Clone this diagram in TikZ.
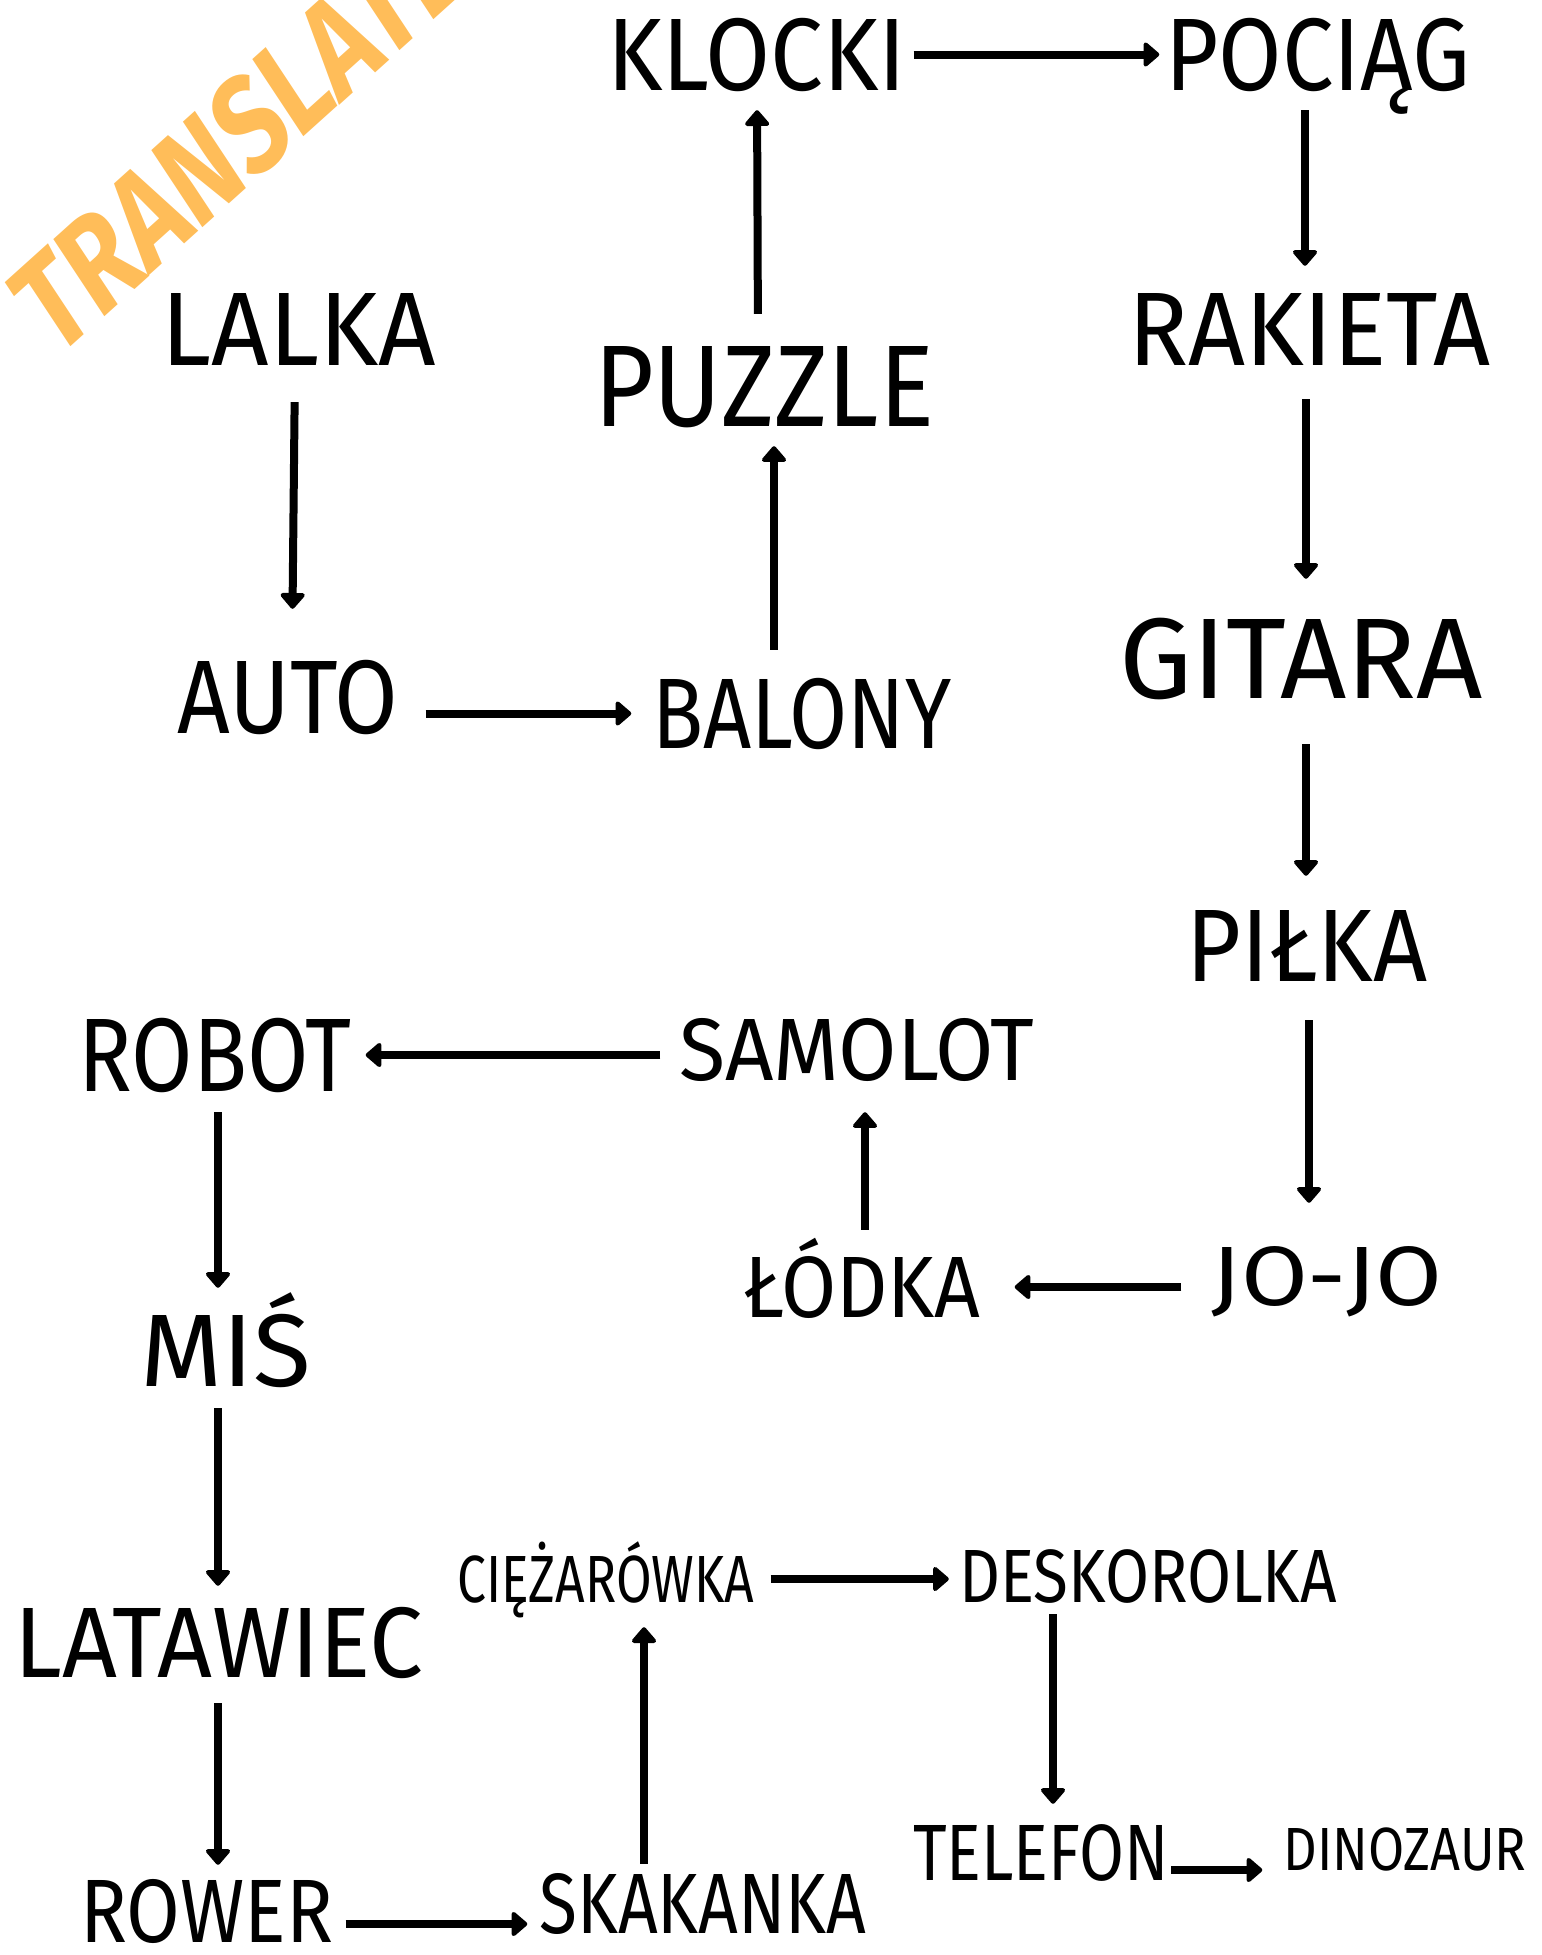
\documentclass[tikz,border=0pt]{standalone}
\usepackage{fontspec}
\usepackage{graphicx}
\setmainfont{Fira Sans}
\usetikzlibrary{arrows.meta}
\definecolor{wmorange}{HTML}{FFBD59}
\tikzset{
  toy/.style={inner sep=0pt, anchor=base, text depth=0pt},
  arr/.style={line width=8pt, -{Triangle[length=17pt,width=28pt,line width=5pt,round]}}
}
\newcommand{\toy}[6]{%
  \node[toy, text height=#4pt] (#1) at (#2,#3)
    {\fontsize{\fpeval{round(#4/0.689,2)}}{\fpeval{round(#4/0.689,2)}}\selectfont\resizebox{#5pt}{\height}{#6}};}

\begin{document}
\begin{tikzpicture}[x=1pt,y=-1pt]
\useasboundingbox (0,0) rectangle (1542,1955);
\clip (0,0) rectangle (1542,1955);
\node[rotate=42, text=wmorange, inner sep=0pt, xslant=0.15] (wm) at (238,135)
  {\fontsize{132}{132}\bfseries\selectfont\resizebox{560pt}{\height}{TRANSLATE}};
\toy{klocki}{757}{90}{71}{299}{KLOCKI}
\toy{pociag}{1318}{90}{71}{305}{POCIĄG}
\toy{lalka}{299}{365}{72}{274}{LALKA}
\toy{puzzle}{764}{426}{80}{340}{PUZZLE}
\toy{rakieta}{1309}{365}{72}{362}{RAKIETA}
\toy{auto}{288}{733}{72}{221}{AUTO}
\toy{balony}{802}{748}{69}{299}{BALONY}
\toy{gitara}{1301}{698}{79}{364}{GITARA}
\toy{pilka}{1307}{981}{71}{241}{PIŁKA}
\toy{robot}{215}{1091}{72}{273}{ROBOT}
\toy{samolot}{857}{1080}{61}{355}{SAMOLOT}
\toy{jojo}{1327}{1305}{58}{231}{JO-JO}
\toy{lodka}{862}{1317}{60}{237}{ŁÓDKA}
\toy{mis}{226}{1386}{71}{171}{MIŚ}
\toy{latawiec}{219}{1677}{69}{409}{LATAWIEC}
\toy{ciezarowka}{606}{1602}{46}{297}{CIĘŻARÓWKA}
\toy{deskorolka}{1148}{1602}{52}{378}{DESKOROLKA}
\toy{telefon}{1041}{1880}{55}{256}{TELEFON}
\toy{dinozaur}{1405}{1870}{42}{243}{DINOZAUR}
\toy{rower}{207}{1942}{62}{253}{ROWER}
\toy{skakanka}{703}{1933}{59}{327}{SKAKANKA}
\draw[arr, shorten <=7pt, shorten >=6pt] (klocki.east) -- (pociag.west);
\draw[arr, shorten <=32pt, shorten >=20pt] ([xshift=-6pt]puzzle.north) -- (klocki.south);
\draw[arr, shorten <=29pt, shorten >=20pt] ([xshift=-28pt]balony.north) -- ([xshift=10pt]puzzle.south);
\draw[arr, shorten <=37pt, shorten >=52pt] ([xshift=-4pt]lalka.south) -- ([xshift=4pt]auto.north);
\draw[arr, shorten <=27pt, shorten >=21pt] (auto.east |- balony.west) -- (balony.west);
\draw[arr, shorten <=20pt, shorten >=27pt] ([xshift=-13pt]pociag.south) -- ([xshift=-4pt]rakieta.north);
\draw[arr, shorten <=34pt, shorten >=40pt] ([xshift=-3pt]rakieta.south) -- ([xshift=5pt]gitara.north);
\draw[arr, shorten <=46pt, shorten >=34pt] ([xshift=5pt]gitara.south) -- ([xshift=-1pt]pilka.north);
\draw[arr, shorten <=39pt, shorten >=44pt] ([xshift=2pt]pilka.south) -- ([xshift=-18pt]jojo.north);
\draw[arr, shorten <=30pt, shorten >=34pt] (jojo.west |- lodka.east) -- (lodka.east);
\draw[arr, shorten <=27pt, shorten >=32pt] ([xshift=3pt]lodka.north) -- ([xshift=8pt]samolot.south);
\draw[arr, shorten <=19pt, shorten >=14pt] (samolot.west |- robot.east) -- (robot.east);
\draw[arr, shorten <=21pt, shorten >=27pt] ([xshift=3pt]robot.south) -- ([xshift=-8pt]mis.north);
\draw[arr, shorten <=22pt, shorten >=22pt] ([xshift=-8pt]mis.south) -- ([xshift=-1pt]latawiec.north);
\draw[arr, shorten <=26pt, shorten >=15pt] ([xshift=-1pt]latawiec.south) -- ([xshift=11pt]rower.north);
\draw[arr, shorten <=12pt, shorten >=12pt] ([yshift=18pt]rower.base east) -- ([yshift=9pt]skakanka.base west);
\draw[arr, shorten <=10pt, shorten >=25pt] ([xshift=-59pt]skakanka.north) -- ([xshift=38pt]ciezarowka.south);
\draw[arr, shorten <=16pt, shorten >=10pt] (ciezarowka.east) -- (ciezarowka.east -| deskorolka.west);
\draw[arr, shorten <=12pt, shorten >=21pt] ([xshift=-95pt]deskorolka.south) -- ([xshift=12pt]telefon.north);
\draw[arr, shorten <=2pt, shorten >=21pt] ([yshift=10pt]telefon.base east) -- (dinozaur.base west);
\end{tikzpicture}
\end{document}
